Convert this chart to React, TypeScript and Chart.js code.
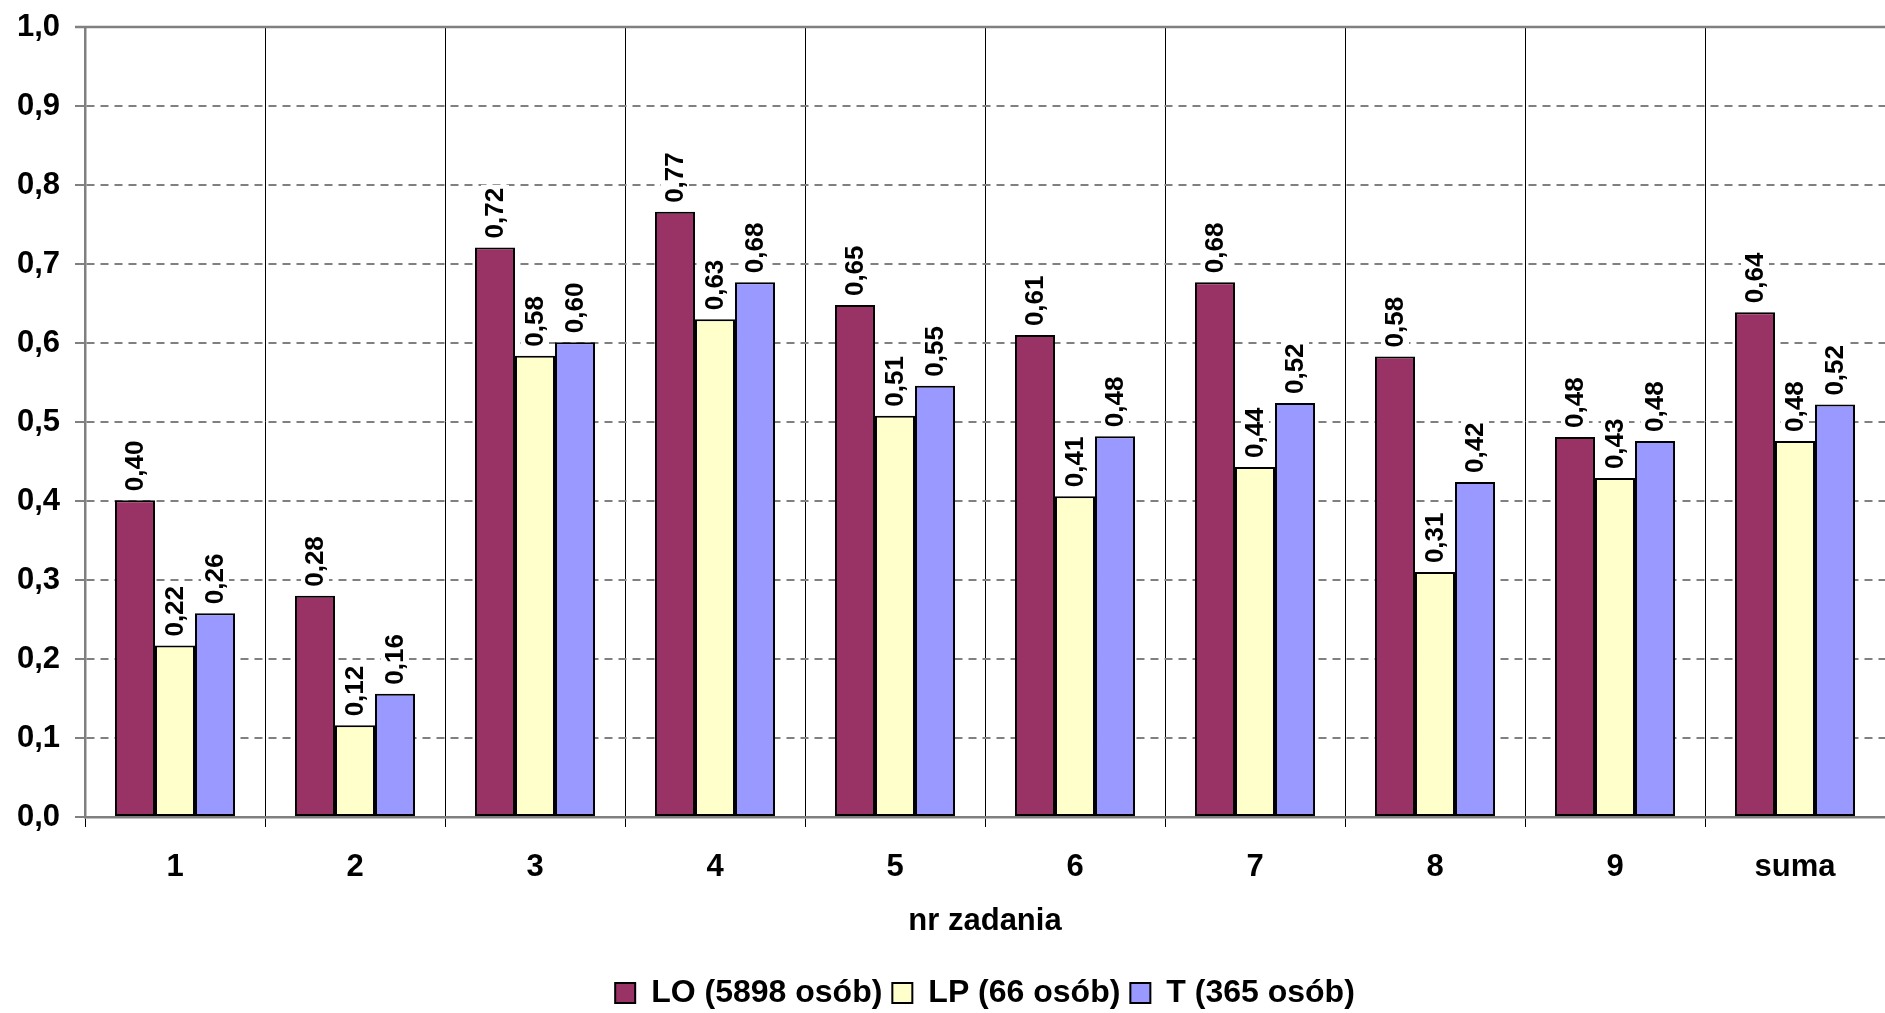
import { useEffect, useRef } from 'react';
import { Chart, registerables } from 'chart.js';

Chart.register(...registerables);

const FONT = '"Liberation Sans", Arial, Helvetica, sans-serif';

const categories = ['1', '2', '3', '4', '5', '6', '7', '8', '9', 'suma'];
const seriesLO = [0.401, 0.28, 0.721, 0.766, 0.648, 0.61, 0.677, 0.583, 0.481, 0.639];
const seriesLP = [0.217, 0.116, 0.584, 0.63, 0.508, 0.406, 0.443, 0.31, 0.429, 0.476];
const seriesT = [0.258, 0.156, 0.601, 0.677, 0.546, 0.482, 0.524, 0.424, 0.476, 0.522];
const seriesNames = ['LO (5898 osób)', 'LP (66 osób)', 'T (365 osób)'];
const seriesColors = ['#993366', '#FFFFCC', '#9999FF'];
const xTitle = 'nr zadania';
const yMin = 0;
const yMax = 1;
const yStep = 0.1;

const fmt = (v: number, d: number) => v.toFixed(d).replace('.', ',');

const valueLabels = {
  id: 'valueLabels',
  afterDatasetsDraw(chart: any) {
    const ctx = chart.ctx;
    ctx.save();
    ctx.font = `bold 26px ${FONT}`;
    chart.data.datasets.forEach((ds: any, di: number) => {
      const meta = chart.getDatasetMeta(di);
      meta.data.forEach((bar: any, i: number) => {
        const txt = fmt(ds.data[i] as number, 2);
        const w = ctx.measureText(txt).width;
        ctx.save();
        ctx.translate(bar.x, bar.y - 9);
        ctx.rotate(-Math.PI / 2);
        ctx.fillStyle = '#ffffff';
        ctx.fillRect(-2, -14, w + 5, 28);
        ctx.fillStyle = '#000000';
        ctx.textAlign = 'left';
        ctx.textBaseline = 'middle';
        ctx.fillText(txt, 0, 1);
        ctx.restore();
      });
    });
    ctx.restore();
  },
};

const topBorder = {
  id: 'topBorder',
  afterDraw(chart: any) {
    const { ctx, chartArea } = chart;
    ctx.save();
    ctx.strokeStyle = '#808080';
    ctx.lineWidth = 2.5;
    ctx.beginPath();
    ctx.moveTo(chartArea.left - 10, chartArea.top);
    ctx.lineTo(chartArea.right, chartArea.top);
    ctx.stroke();
    ctx.restore();
  },
};

export default function App() {
  const ref = useRef<HTMLCanvasElement | null>(null);

  useEffect(() => {
    if (!ref.current) return;
    const makeDs = (label: string, data: number[], color: string) => ({
      label,
      data,
      backgroundColor: color,
      borderColor: '#000000',
      borderWidth: 2,
      borderSkipped: false,
      barPercentage: 1,
      categoryPercentage: 0.667,
    });
    const chart = new Chart(ref.current, {
      type: 'bar',
      data: {
        labels: categories,
        datasets: [
          makeDs(seriesNames[0], seriesLO, seriesColors[0]),
          makeDs(seriesNames[1], seriesLP, seriesColors[1]),
          makeDs(seriesNames[2], seriesT, seriesColors[2]),
        ],
      },
      options: {
        responsive: false,
        animation: false,
        events: [],
        layout: { padding: { top: 27, left: 0, right: 0, bottom: -6 } },
        plugins: {
          tooltip: { enabled: false },
          legend: {
            display: true,
            position: 'bottom',
            fullSize: false,
            labels: {
              color: '#000000',
              font: { family: FONT, size: 32, weight: 'bold' },
              boxWidth: 20,
              boxHeight: 20,
              padding: 10,
            },
          },
        },
        scales: {
          x: {
            grid: {
              display: true,
              offset: true,
              color: '#000000',
              lineWidth: 1,
              drawOnChartArea: true,
              drawTicks: true,
              tickLength: 10,
              tickColor: '#000000',
            },
            border: { display: true, color: '#808080', width: 2.5 },
            ticks: {
              color: '#000000',
              font: { family: FONT, size: 31, weight: 'bold' },
              padding: 22,
              maxRotation: 0,
              autoSkip: false,
            },
            title: {
              display: true,
              text: xTitle,
              color: '#000000',
              font: { family: FONT, size: 31, weight: 'bold' },
              padding: { top: 0, bottom: 27 },
            },
            afterFit: (s: any) => {
              s.height = 150;
              s.paddingLeft = 0;
              s.paddingRight = 0;
            },
          },
          y: {
            min: yMin,
            max: yMax,
            ticks: {
              stepSize: yStep,
              color: '#000000',
              font: { family: FONT, size: 31, weight: 'bold' },
              padding: 15,
              callback: (v: any) => fmt(Number(v), 1),
            },
            grid: {
              color: '#808080',
              lineWidth: 2,
              tickLength: 10,
              tickColor: '#808080',
              tickWidth: 2,
              tickBorderDash: [],
            },
            border: { display: true, color: '#808080', width: 2.5, dash: [8, 6] },
            afterFit: (s: any) => {
              s.width = 85;
              s.paddingTop = 0;
              s.paddingBottom = 0;
            },
          },
        },
      },
      plugins: [valueLabels, topBorder],
    } as any);
    return () => chart.destroy();
  }, []);

  return (
    <div style={{ position: 'absolute', left: 0, top: 0, width: 1885, height: 1013, background: '#fff' }}>
      <canvas ref={ref} width={1885} height={1013} style={{ display: 'block' }} />
    </div>
  );
}
